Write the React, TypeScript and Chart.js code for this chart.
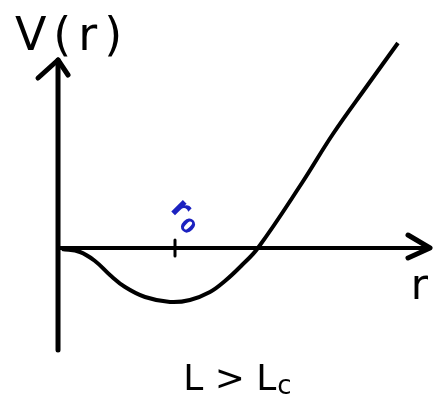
import React, { useEffect, useRef } from "react";
import { Chart, registerables } from "chart.js";

Chart.register(...registerables);

// Potential curve V(r) sketched for L > Lc
const rValues = [0.034, 0.188, 0.316, 0.444, 0.573, 0.744, 0.957, 1.128, 1.299, 1.427, 1.573, 1.709, 2.085, 2.35, 2.641, 2.906];
const vValues = [-0.02, -0.08, -0.26, -0.54, -0.78, -0.98, -1.08, -1.04, -0.88, -0.66, -0.34, 0, 1.3, 2.28, 3.24, 4.1];

const xRange = [-0.496, 3.291];
const yRange = [-3.06, 4.96];
const yAxisSpan = [-2.04, 3.76];
const xAxisEnd = 3.18;
const r0 = 1;

const axesPlugin = {
  id: "sketchAxes",
  beforeDatasetsDraw(chart: any) {
    const { ctx, scales } = chart;
    const xs = scales.x;
    const ys = scales.y;
    const x0 = xs.getPixelForValue(0);
    const y0 = ys.getPixelForValue(0);
    const yTop = ys.getPixelForValue(yAxisSpan[1]);
    const yBot = ys.getPixelForValue(yAxisSpan[0]);
    const xEnd = xs.getPixelForValue(xAxisEnd);
    ctx.save();
    ctx.strokeStyle = "#000";
    ctx.lineCap = "round";
    ctx.lineJoin = "round";
    ctx.lineWidth = 5;
    // y axis
    ctx.beginPath();
    ctx.moveTo(x0, yBot);
    ctx.lineTo(x0, yTop);
    ctx.stroke();
    ctx.beginPath();
    ctx.moveTo(x0 - 20, yTop + 18);
    ctx.lineTo(x0, yTop);
    ctx.lineTo(x0 + 10, yTop + 15);
    ctx.stroke();
    // x axis
    ctx.lineWidth = 4;
    ctx.beginPath();
    ctx.moveTo(x0, y0);
    ctx.lineTo(xEnd, y0);
    ctx.stroke();
    ctx.lineWidth = 5;
    ctx.beginPath();
    ctx.moveTo(xEnd - 22, y0 - 13);
    ctx.lineTo(xEnd, y0);
    ctx.lineTo(xEnd - 22, y0 + 10);
    ctx.stroke();
    // tick at r0
    const xt = xs.getPixelForValue(r0);
    ctx.lineWidth = 3;
    ctx.beginPath();
    ctx.moveTo(xt, y0 - 8);
    ctx.lineTo(xt, y0 + 8);
    ctx.stroke();
    ctx.restore();
  },
  afterDraw(chart: any) {
    const { ctx, scales } = chart;
    const xs = scales.x;
    const ys = scales.y;
    const x0 = xs.getPixelForValue(0);
    const y0 = ys.getPixelForValue(0);
    ctx.save();
    ctx.fillStyle = "#000";
    ctx.textBaseline = "middle";
    ctx.textAlign = "center";
    // V(r)
    ctx.font = "46px 'DejaVu Sans'";
    (ctx as any).letterSpacing = "7px";
    ctx.fillText("V(r)", x0 + 14, ys.getPixelForValue(4.2));
    (ctx as any).letterSpacing = "0px";
    // r label
    ctx.font = "42px 'DejaVu Sans'";
    ctx.fillText("r", xs.getPixelForValue(3.09), y0 + 40);
    // r0 label (blue, rotated)
    const xt = xs.getPixelForValue(r0);
    ctx.save();
    ctx.translate(xt + 8, y0 - 33);
    ctx.rotate(Math.PI / 4);
    ctx.fillStyle = "#1c22c0";
    ctx.font = "bold 30px 'DejaVu Sans'";
    ctx.textAlign = "center";
    ctx.fillText("r", -6, -2);
    ctx.font = "bold 20px 'DejaVu Sans'";
    ctx.fillText("0", 11, 6);
    ctx.restore();
    // L > Lc
    ctx.font = "36px 'DejaVu Sans'";
    ctx.textAlign = "left";
    const baseY = ys.getPixelForValue(-2.66);
    const xStart = xs.getPixelForValue(1.07);
    ctx.fillText("L > L", xStart, baseY);
    const w = ctx.measureText("L > L").width;
    ctx.font = "26px 'DejaVu Sans'";
    ctx.fillText("c", xStart + w + 1, baseY + 6);
    ctx.restore();
  },
};

export default function App() {
  const ref = useRef<HTMLCanvasElement>(null);
  useEffect(() => {
    if (!ref.current) return;
    const chart = new Chart(ref.current, {
      type: "line",
      data: {
        datasets: [
          {
            label: "V(r)",
            data: rValues.map((r, i) => ({ x: r, y: vValues[i] })),
            borderColor: "#000",
            borderWidth: 4,
            pointRadius: 0,
            tension: 0.4,
            fill: false,
          },
        ],
      },
      options: {
        animation: false,
        responsive: false,
        maintainAspectRatio: false,
        layout: { padding: 0 },
        plugins: { legend: { display: false }, tooltip: { enabled: false } },
        scales: {
          x: { type: "linear", min: xRange[0], max: xRange[1], display: false },
          y: { type: "linear", min: yRange[0], max: yRange[1], display: false },
        },
      },
      plugins: [axesPlugin],
    });
    return () => chart.destroy();
  }, []);
  return (
    <div style={{ position: "absolute", left: 0, top: 0, width: 443, height: 401, background: "#fff" }}>
      <canvas ref={ref} width={443} height={401} />
    </div>
  );
}
